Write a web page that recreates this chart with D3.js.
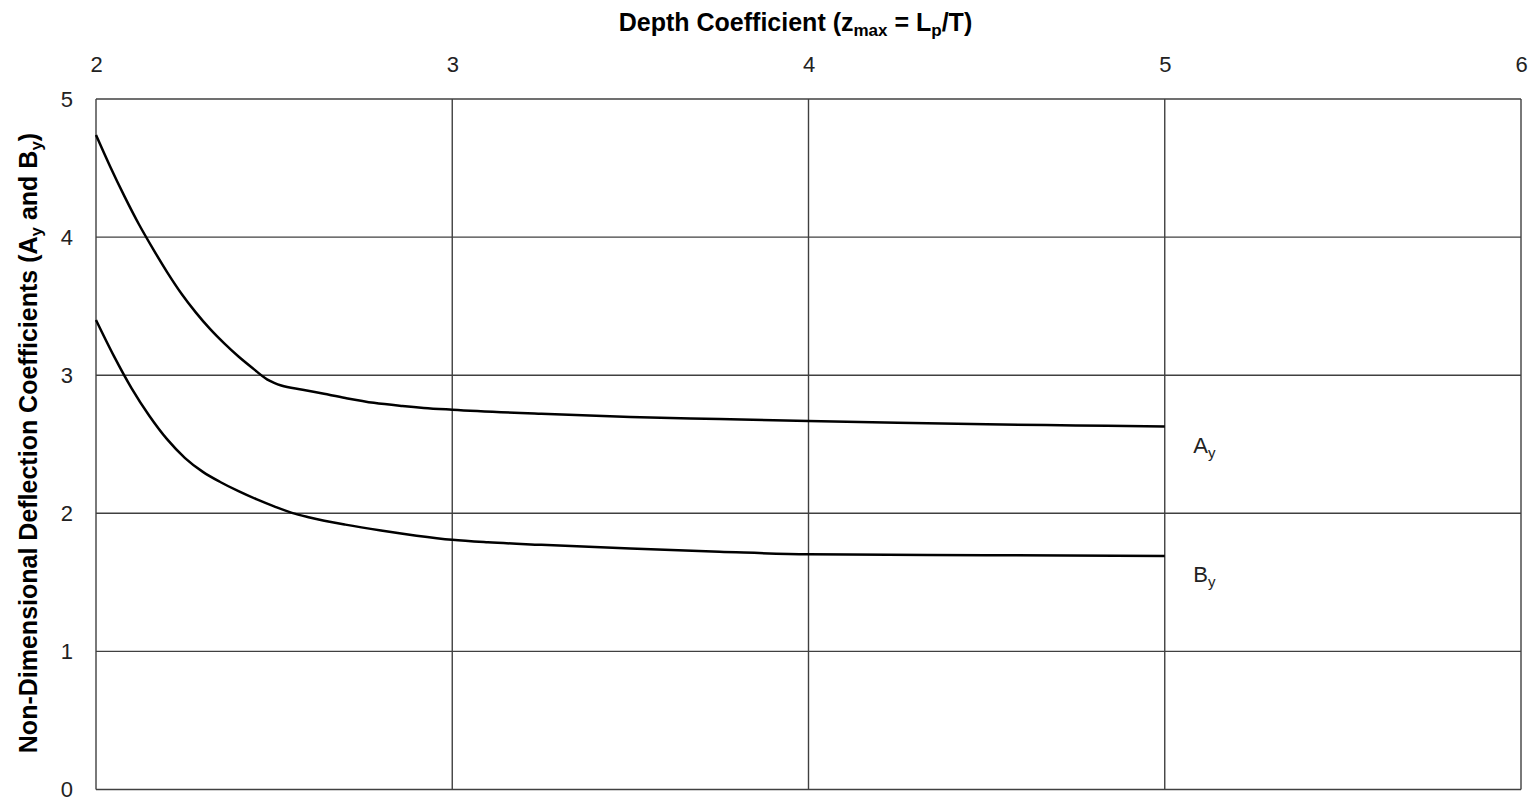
<!DOCTYPE html>
<html>
<head>
<meta charset="utf-8">
<script src="https://cdn.jsdelivr.net/npm/d3@7"></script>
<style>
  html, body { margin: 0; padding: 0; background: #fff; }
  svg { display: block; }
  text { font-family: Arial, "Liberation Sans", sans-serif; }
</style>
</head>
<body>
<svg id="chart" width="1535" height="804"></svg>
<script>
// ---- data ----
const xTicks = [2, 3, 4, 5, 6];
const yTicks = [0, 1, 2, 3, 4, 5];

const depthA = [2.00, 2.04, 2.08, 2.12, 2.16, 2.20, 2.24, 2.28, 2.32, 2.36, 2.40, 2.44, 2.48, 2.50, 2.52, 2.58, 2.64, 2.70, 2.78, 2.86, 2.92, 3.00, 3.25, 3.50, 3.75, 4.00, 4.25, 4.50, 4.75, 5.00];
const coefA  = [4.74, 4.51, 4.295, 4.095, 3.915, 3.745, 3.59, 3.455, 3.335, 3.23, 3.135, 3.05, 2.97, 2.945, 2.925, 2.895, 2.865, 2.835, 2.800, 2.777, 2.763, 2.750, 2.720, 2.697, 2.682, 2.668, 2.655, 2.645, 2.636, 2.628];

const depthB = [2.00, 2.05, 2.10, 2.15, 2.20, 2.25, 2.30, 2.35, 2.40, 2.45, 2.50, 2.55, 2.60, 2.70, 2.80, 2.90, 3.00, 3.10, 3.25, 3.50, 3.75, 4.00, 4.50, 5.00];
const coefB  = [3.40, 3.14, 2.905, 2.705, 2.535, 2.40, 2.30, 2.225, 2.16, 2.102, 2.05, 2.003, 1.97, 1.918, 1.875, 1.838, 1.808, 1.790, 1.772, 1.745, 1.722, 1.703, 1.697, 1.691];

const seriesNames = ["A", "B"];

// ---- layout ----
const svg = d3.select("#chart");
const mLeft = 96, mRight = 1521, mTop = 99, mBottom = 789.5;

const x = d3.scaleLinear().domain([2, 6]).range([mLeft, mRight]);
const y = d3.scaleLinear().domain([0, 5]).range([mBottom, mTop]);

const gridColor = "#404040";

// grid
const g = svg.append("g");
g.selectAll("line.vgrid").data(xTicks).enter().append("line")
  .attr("x1", d => x(d)).attr("x2", d => x(d))
  .attr("y1", y(0)).attr("y2", y(5))
  .attr("stroke", gridColor).attr("stroke-width", 1.4);
g.selectAll("line.hgrid").data(yTicks).enter().append("line")
  .attr("x1", x(2)).attr("x2", x(6))
  .attr("y1", d => y(d)).attr("y2", d => y(d))
  .attr("stroke", gridColor).attr("stroke-width", 1.4);

// top x axis (labels only)
const xAxis = d3.axisTop(x).tickValues(xTicks).tickFormat(d3.format("d")).tickSize(0).tickPadding(0);
const xg = svg.append("g").attr("transform", `translate(0, ${71.5})`).call(xAxis);
xg.select(".domain").remove();
xg.selectAll("text").attr("font-size", 22).attr("fill", "#222").attr("dy", 0)
  .attr("font-family", "Arial, 'Liberation Sans', sans-serif");

// left y axis (labels only)
const yAxis = d3.axisLeft(y).tickValues(yTicks).tickFormat(d3.format("d")).tickSize(0).tickPadding(0);
const yg = svg.append("g").attr("transform", `translate(${73}, 0)`).call(yAxis);
yg.select(".domain").remove();
yg.selectAll("text").attr("font-size", 22).attr("fill", "#222")
  .attr("font-family", "Arial, 'Liberation Sans', sans-serif");

// curves
const lineGen = d3.line().x(d => x(d[0])).y(d => y(d[1])).curve(d3.curveMonotoneX);
const dataA = depthA.map((d, i) => [d, coefA[i]]);
const dataB = depthB.map((d, i) => [d, coefB[i]]);
[dataA, dataB].forEach(dat => {
  svg.append("path").datum(dat).attr("d", lineGen)
    .attr("fill", "none").attr("stroke", "#000").attr("stroke-width", 2.5)
    .attr("stroke-linejoin", "round");
});

// series labels
const labelData = [
  { name: seriesNames[0], x: 5.08, y: coefA[coefA.length - 1] },
  { name: seriesNames[1], x: 5.08, y: coefB[coefB.length - 1] }
];
labelData.forEach(l => {
  const t = svg.append("text")
    .attr("x", x(l.x)).attr("y", y(l.y) + 26)
    .attr("font-size", 22).attr("fill", "#222");
  t.append("tspan").text(l.name);
  t.append("tspan").text("y").attr("font-size", 15).attr("dy", 5);
});

// x title
const xt = svg.append("text")
  .attr("x", (mLeft + mRight) / 2 - 13).attr("y", 31)
  .attr("text-anchor", "middle").attr("font-size", 25).attr("font-weight", "bold").attr("fill", "#000");
xt.append("tspan").text("Depth Coefficient (z");
xt.append("tspan").text("max").attr("font-size", 17).attr("dy", 5);
xt.append("tspan").text(" = L").attr("dy", -5);
xt.append("tspan").text("p").attr("font-size", 17).attr("dy", 5);
xt.append("tspan").text("/T)").attr("dy", -5);

// y title
const yt = svg.append("text")
  .attr("transform", `translate(37, 443) rotate(-90)`)
  .attr("text-anchor", "middle").attr("font-size", 25).attr("font-weight", "bold").attr("fill", "#000");
yt.append("tspan").text("Non-Dimensional Deflection Coefficients (A");
yt.append("tspan").text("y").attr("font-size", 17).attr("dy", 5);
yt.append("tspan").text(" and B").attr("dy", -5);
yt.append("tspan").text("y").attr("font-size", 17).attr("dy", 5);
yt.append("tspan").text(")").attr("dy", -5);
</script>
</body>
</html>
